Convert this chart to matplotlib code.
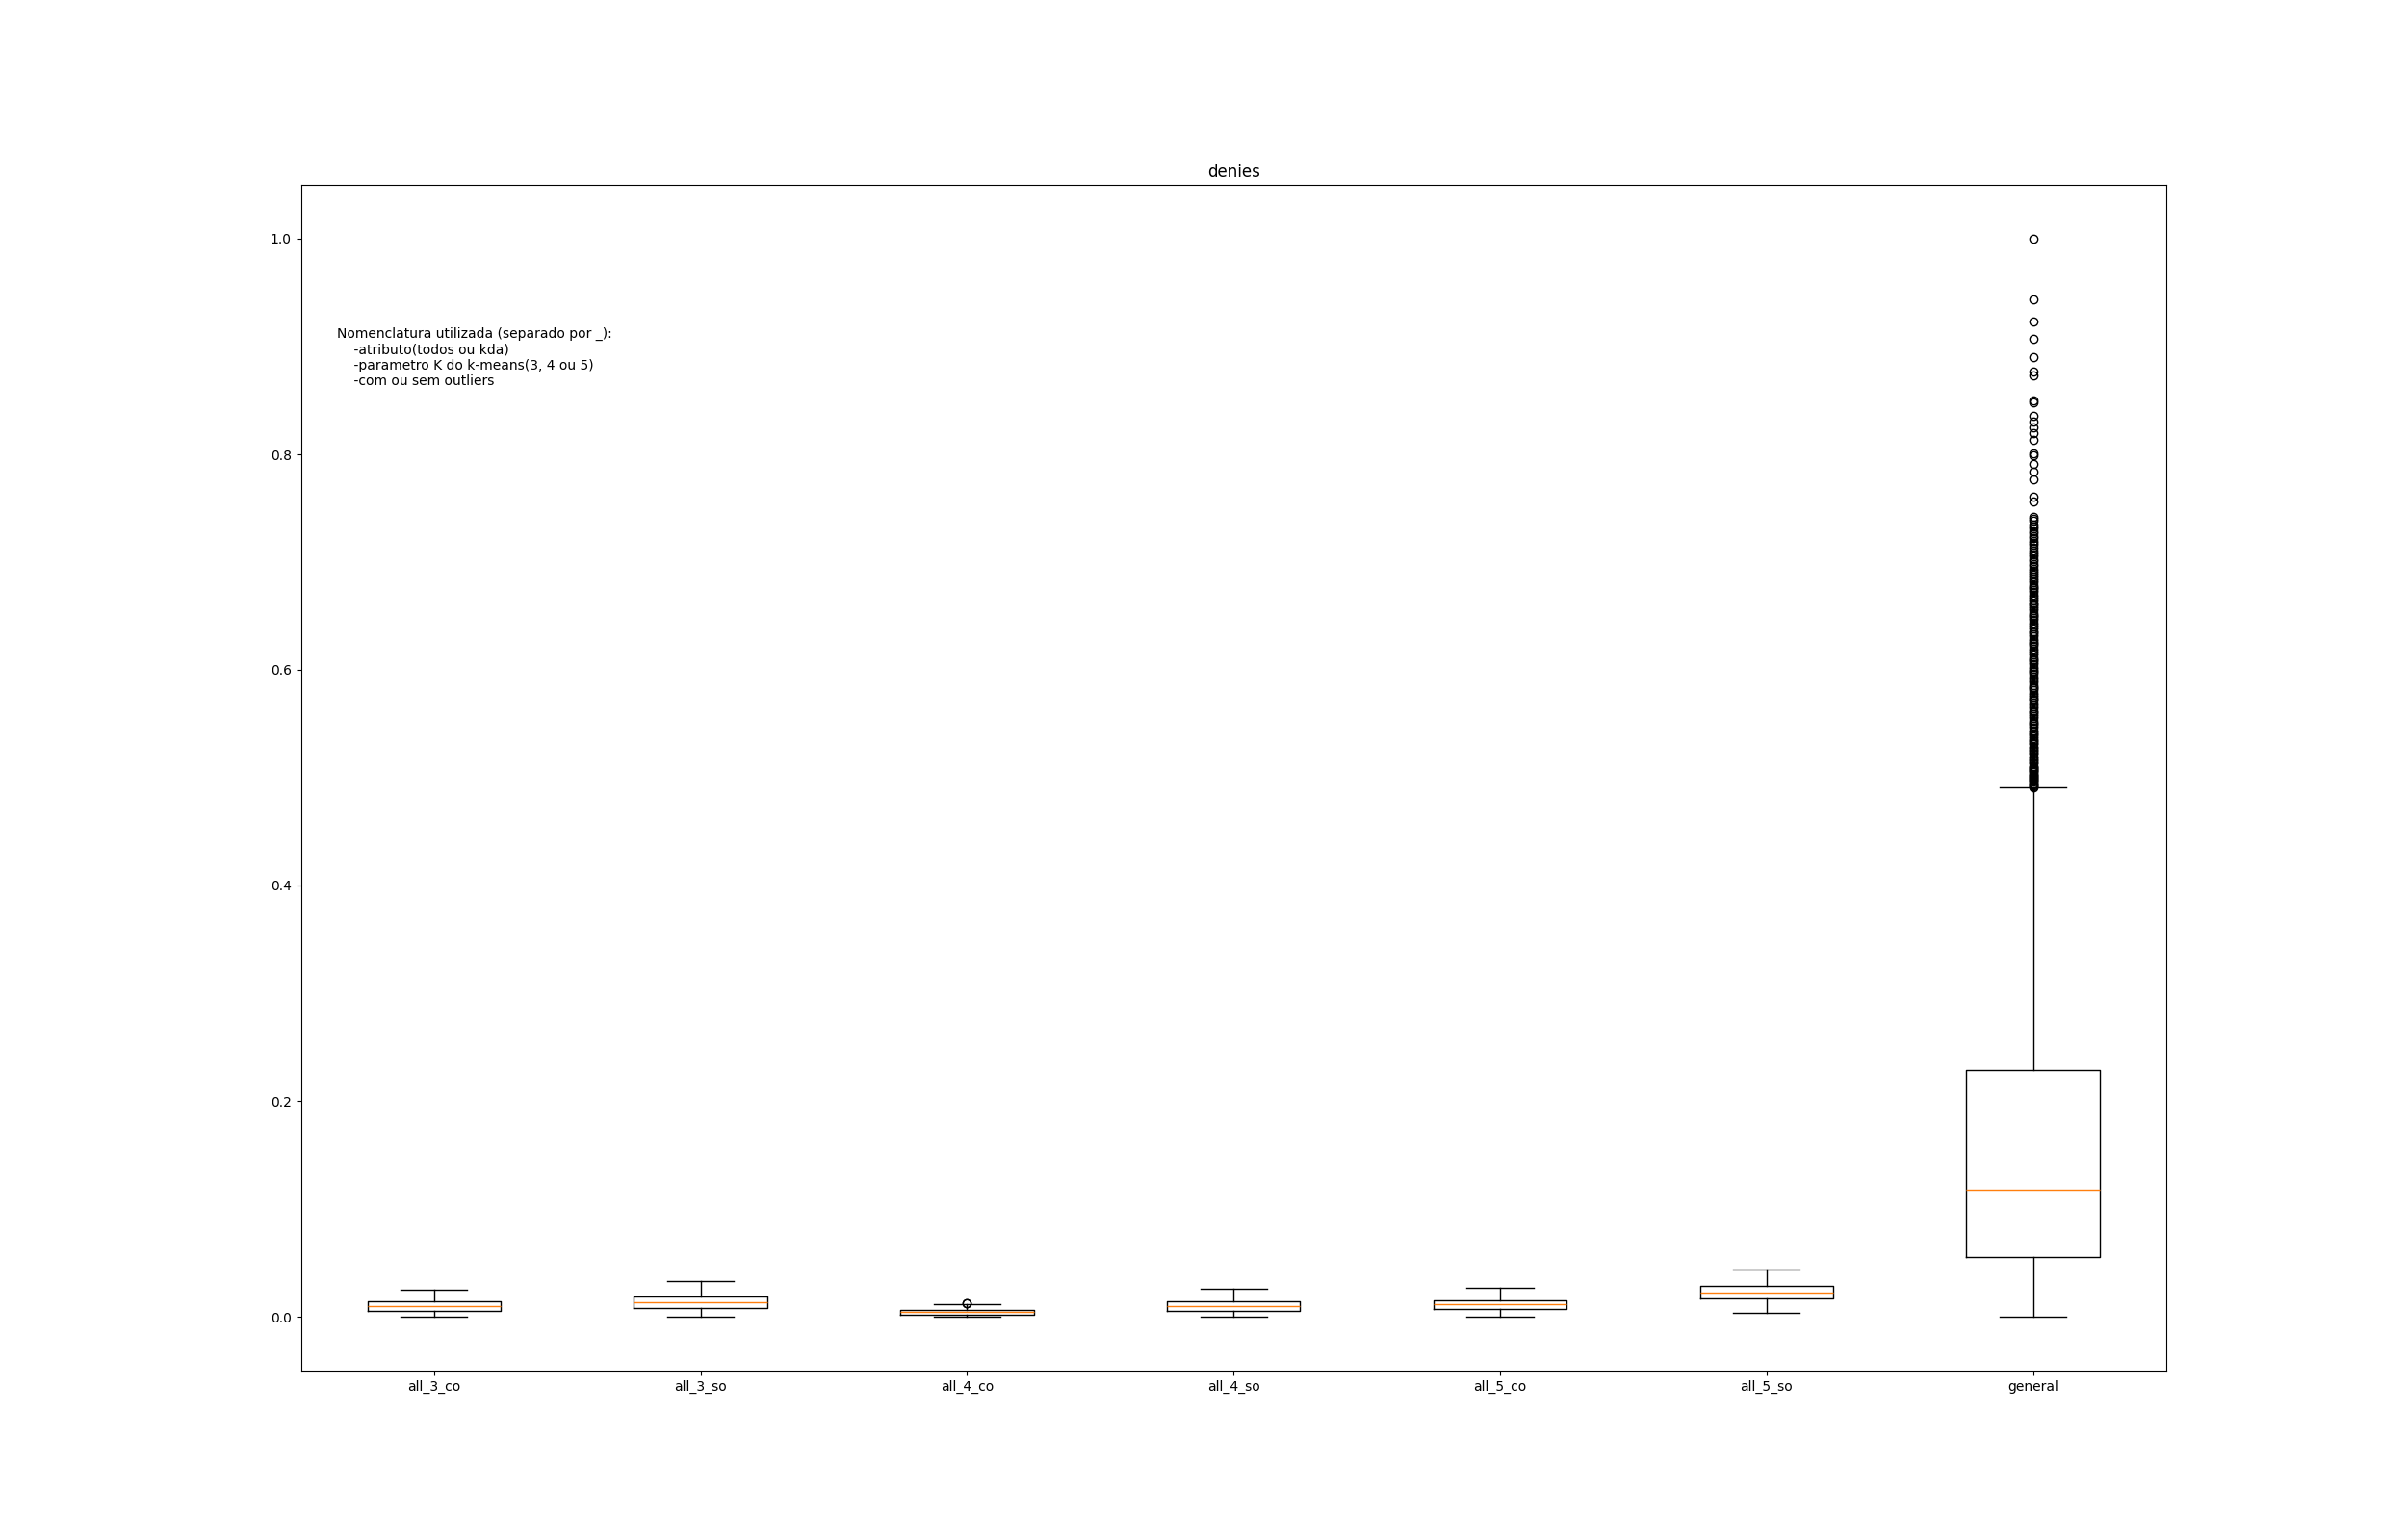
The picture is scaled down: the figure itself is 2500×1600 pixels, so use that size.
import matplotlib
matplotlib.use("Agg")
import matplotlib.pyplot as plt

labels = ["all_3_co", "all_3_so", "all_4_co", "all_4_so", "all_5_co", "all_5_so", "general"]
whislo = [0.0, 0.0, 0.0, 0.0, 0.0, 0.0036, 0.0]
q1 = [0.0056, 0.0083, 0.0020, 0.0056, 0.0068, 0.0167, 0.055]
med = [0.0095, 0.0130, 0.0042, 0.0095, 0.0113, 0.0220, 0.118]
q3 = [0.0140, 0.0185, 0.0062, 0.0140, 0.0152, 0.0286, 0.229]
whishi = [0.0250, 0.0330, 0.0113, 0.0256, 0.0265, 0.0435, 0.491]

all_4_co_fliers = [0.0122, 0.0125]
general_fliers = [1.0, 0.944, 0.923, 0.907, 0.890, 0.877, 0.873, 0.850, 0.848,
                  0.836, 0.830, 0.825, 0.820, 0.813, 0.801, 0.799, 0.791, 0.784,
                  0.777, 0.761, 0.756, 0.742, 0.740, 0.738, 0.735, 0.733, 0.731,
                  0.729, 0.727, 0.724, 0.722, 0.720, 0.718, 0.716, 0.713, 0.711,
                  0.709, 0.707, 0.705, 0.703, 0.701, 0.698, 0.696, 0.694, 0.692,
                  0.690, 0.688, 0.687, 0.685, 0.683, 0.681, 0.679, 0.677, 0.676,
                  0.674, 0.672, 0.670, 0.668, 0.666, 0.664, 0.662, 0.661, 0.659,
                  0.657, 0.655, 0.653, 0.651, 0.650, 0.648, 0.646, 0.644, 0.642,
                  0.640, 0.638, 0.636, 0.635, 0.633, 0.631, 0.629, 0.627, 0.625,
                  0.624, 0.622, 0.620, 0.618, 0.616, 0.614, 0.612, 0.610, 0.609,
                  0.607, 0.605, 0.603, 0.601, 0.599, 0.598, 0.596, 0.594, 0.592,
                  0.590, 0.588, 0.586, 0.584, 0.583, 0.581, 0.579, 0.577, 0.575,
                  0.573, 0.572, 0.570, 0.568, 0.566, 0.564, 0.562, 0.561, 0.559,
                  0.557, 0.555, 0.553, 0.551, 0.550, 0.548, 0.546, 0.544, 0.543,
                  0.541, 0.540, 0.538, 0.537, 0.535, 0.534, 0.532, 0.531, 0.529,
                  0.528, 0.526, 0.525, 0.523, 0.522, 0.520, 0.519, 0.517, 0.516,
                  0.514, 0.513, 0.511, 0.510, 0.509, 0.508, 0.507, 0.506, 0.505,
                  0.504, 0.503, 0.502, 0.501, 0.500, 0.499, 0.498, 0.497, 0.496,
                  0.495, 0.494, 0.493, 0.492, 0.491]
fliers = [[], [], all_4_co_fliers, [], [], [], general_fliers]

note = ("Nomenclatura utilizada (separado por _):\n"
        "    -atributo(todos ou kda)\n"
        "    -parametro K do k-means(3, 4 ou 5)\n"
        "    -com ou sem outliers")

fig = plt.figure(figsize=(25, 16), dpi=100)
ax = fig.add_subplot(111)

stats = []
for i in range(len(labels)):
    stats.append(dict(label=labels[i], whislo=whislo[i], q1=q1[i], med=med[i],
                      q3=q3[i], whishi=whishi[i], fliers=fliers[i]))

ax.bxp(stats, showfliers=True)
ax.set_title("denies")
fig.text(0.14, 0.75, note)

fig.savefig("out.png", dpi=100)
